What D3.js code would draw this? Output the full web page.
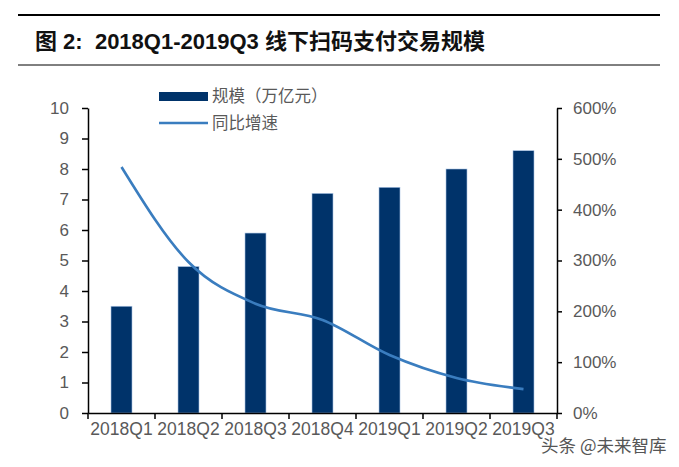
<!DOCTYPE html>
<html>
<head>
<meta charset="utf-8">
<script src="https://cdn.jsdelivr.net/npm/d3@7"></script>
<style>
  body { margin: 0; background: #fff; }
  text { font-family: "Liberation Sans", Arial, "Noto Sans CJK SC", sans-serif; }
</style>
</head>
<body>
<div id="root"></div>
<script>
// quarters on the x axis
var quarters = ['2018Q1', '2018Q2', '2018Q3', '2018Q4', '2019Q1', '2019Q2', '2019Q3'];
// transaction scale, trillion yuan
var scaleValues = [3.5, 4.8, 5.9, 7.2, 7.4, 8.0, 8.6];
// year on year growth, percent
var growthValues = [484, 297, 215, 183, 114, 69, 47];
var leftTicks = [0, 1, 2, 3, 4, 5, 6, 7, 8, 9, 10];
var rightTicks = [0, 100, 200, 300, 400, 500, 600];

var W = 679, H = 467;
var plotLeft = 88, plotRight = 557, plotTop = 108, plotBottom = 413;

var svg = d3.select('#root')
  .append('svg')
    .attr('width', W)
    .attr('height', H);

// title block with rules
svg.append('line').attr('x1', 18).attr('x2', 660).attr('y1', 15).attr('y2', 15)
  .attr('stroke', '#000').attr('stroke-width', 2);
svg.append('line').attr('x1', 18).attr('x2', 660).attr('y1', 65).attr('y2', 65)
  .attr('stroke', '#000').attr('stroke-width', 1);
svg.append('text')
  .attr('x', 35)
  .attr('y', 49)
  .attr('font-size', 22)
  .attr('font-weight', 'bold')
  .attr('fill', '#111')
  .attr('xml:space', 'preserve')
  .text('图 2:  2018Q1-2019Q3 线下扫码支付交易规模');

var x = d3.scaleBand().domain(quarters).range([plotLeft, plotRight]);
var yL = d3.scaleLinear().domain([0, 10]).range([plotBottom, plotTop]);
var yR = d3.scaleLinear().domain([0, 600]).range([plotBottom, plotTop]);

// bars
svg.selectAll('rect.bar')
  .data(scaleValues)
  .enter()
  .append('rect')
    .attr('class', 'bar')
    .attr('x', (d, i) => x(quarters[i]) + x.bandwidth() / 2 - 10.5)
    .attr('y', d => yL(d))
    .attr('width', 21)
    .attr('height', d => yL(0) - yL(d))
    .attr('fill', '#00336a')
    .attr('stroke', '#a9c4e4')
    .attr('stroke-width', 0.6);

// growth line
var line = d3.line()
  .x((d, i) => x(quarters[i]) + x.bandwidth() / 2)
  .y(d => yR(d))
  .curve(d3.curveMonotoneX);

svg.append('path')
  .datum(growthValues)
  .attr('d', line)
  .attr('fill', 'none')
  .attr('stroke', '#3a7dbf')
  .attr('stroke-width', 2.6);

// axes
var gl = svg.append('g')
  .attr('transform', 'translate(' + plotLeft + ',0)')
  .call(d3.axisLeft(yL).tickValues(leftTicks).tickSize(6).tickSizeOuter(0).tickPadding(13));
var gr = svg.append('g')
  .attr('transform', 'translate(' + plotRight + ',0)')
  .call(d3.axisRight(yR).tickValues(rightTicks).tickSize(5).tickSizeOuter(0).tickPadding(11)
    .tickFormat(d => d + '%'));
var gx = svg.append('g')
  .attr('transform', 'translate(0,' + plotBottom + ')')
  .call(d3.axisBottom(x).tickSize(0).tickPadding(12));

[gl, gr, gx].forEach(g => {
  g.select('.domain').attr('stroke', '#000').attr('stroke-width', 1.5);
  g.selectAll('line').attr('stroke', '#000').attr('stroke-width', 1.5);
  g.selectAll('text')
    .attr('fill', '#595959')
    .attr('font-size', 17)
    .style('font-family', '"Liberation Sans", Arial, sans-serif');
});
gx.selectAll('text').attr('font-size', 17.5).attr('dy', '0.55em');

// category boundary ticks on x axis
var bounds = quarters.map(q => x(q)).concat([plotRight]);
svg.selectAll('line.xt')
  .data(bounds)
  .enter()
  .append('line')
    .attr('class', 'xt')
    .attr('x1', d => d).attr('x2', d => d)
    .attr('y1', plotBottom).attr('y2', plotBottom + 6)
    .attr('stroke', '#000')
    .attr('stroke-width', 1.5);

// legend
svg.append('rect')
  .attr('x', 159).attr('y', 92).attr('width', 49).attr('height', 9)
  .attr('fill', '#00336a');
svg.append('text')
  .attr('x', 212).attr('y', 102)
  .attr('font-size', 16.5).attr('fill', '#595959')
  .style('font-family', '"Noto Sans CJK SC", sans-serif')
  .text('规模（万亿元）');
svg.append('line')
  .attr('x1', 159).attr('x2', 208).attr('y1', 123).attr('y2', 123)
  .attr('stroke', '#3a7dbf').attr('stroke-width', 2.6);
svg.append('text')
  .attr('x', 212).attr('y', 129)
  .attr('font-size', 16.5).attr('fill', '#595959')
  .style('font-family', '"Noto Sans CJK SC", sans-serif')
  .text('同比增速');

// watermark
svg.append('text')
  .attr('x', 541).attr('y', 452)
  .attr('font-size', 17.5).attr('fill', '#555')
  .attr('stroke', '#fff').attr('stroke-width', 3).attr('paint-order', 'stroke')
  .style('font-family', '"Noto Sans CJK SC", sans-serif')
  .text('头条 @未来智库');
</script>
</body>
</html>
